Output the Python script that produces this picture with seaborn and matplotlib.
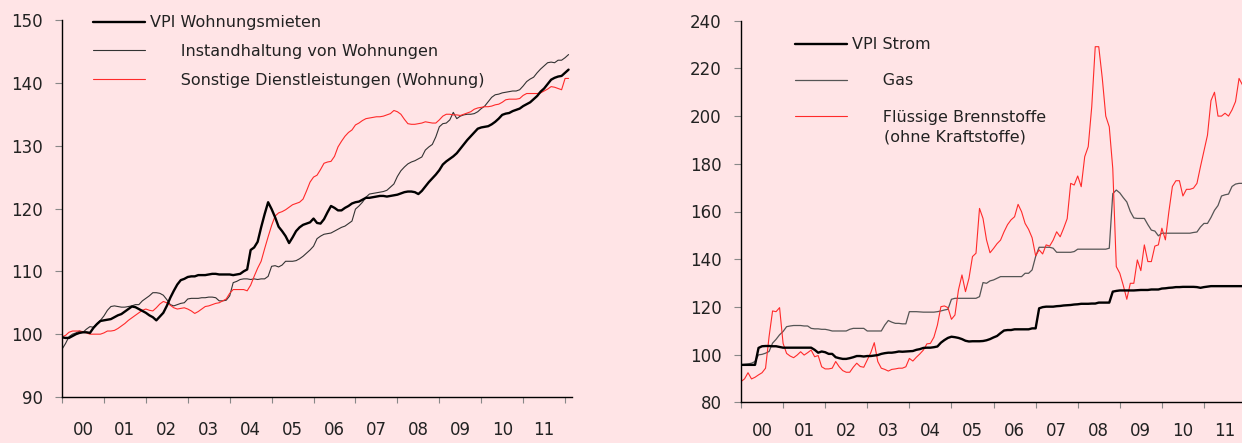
import numpy as np
import pandas as pd
import matplotlib
matplotlib.use("Agg")
import matplotlib.pyplot as plt
import seaborn as sns
from matplotlib.ticker import FixedLocator, NullFormatter, FixedFormatter

# ---------------- data (monthly, Jan 2000 - Feb 2012) ----------------
months = pd.date_range("2000-01-01", periods=146, freq="MS")
year_labels = ["00", "01", "02", "03", "04", "05", "06", "07", "08", "09", "10", "11"]

miete = [
    99.5, 99.4, 99.4, 99.7, 100.0, 100.2, 100.3, 100.3, 100.2, 101.0, 101.6, 102.1,
    102.2, 102.3, 102.4, 102.7, 103.0, 103.2, 103.6, 104.0, 104.4, 104.3, 104.0, 103.7,
    103.4, 103.0, 102.7, 102.2, 102.8, 103.4, 104.5, 105.8, 106.9, 107.9, 108.6, 108.8,
    109.1, 109.2, 109.2, 109.4, 109.4, 109.4, 109.5, 109.6, 109.6, 109.5, 109.5, 109.5,
    109.5, 109.4, 109.5, 109.6, 110.0, 110.3, 113.4, 113.8, 114.7, 117.0, 119.1, 121.0,
    119.9, 118.6, 117.1, 116.4, 115.6, 114.5, 115.4, 116.4, 117.0, 117.4, 117.6, 117.8,
    118.4, 117.7, 117.6, 118.3, 119.4, 120.4, 120.1, 119.7, 119.7, 120.1, 120.4, 120.8,
    121.0, 121.1, 121.4, 121.7, 121.7, 121.8, 121.9, 122.0, 122.0, 121.9, 122.0, 122.1,
    122.2, 122.4, 122.6, 122.7, 122.7, 122.6, 122.3, 122.8, 123.5, 124.2, 124.8, 125.4,
    126.1, 127.0, 127.5, 127.9, 128.3, 128.8, 129.5, 130.2, 130.9, 131.5, 132.1, 132.7,
    132.9, 133.0, 133.1, 133.4, 133.8, 134.3, 134.9, 135.1, 135.2, 135.5, 135.7, 135.9,
    136.3, 136.6, 136.9, 137.4, 137.9, 138.6, 139.1, 139.8, 140.5, 140.8, 141.0, 141.1,
    141.6, 142.1,
]
instand = [
    97.6, 98.5, 99.6, 100.0, 100.2, 100.5, 100.3, 100.8, 101.2, 101.1, 101.7, 102.2,
    102.9, 103.8, 104.4, 104.5, 104.4, 104.3, 104.3, 104.4, 104.5, 104.7, 104.7, 105.3,
    105.7, 106.1, 106.6, 106.6, 106.5, 106.2, 105.5, 104.7, 104.5, 104.7, 104.9, 105.0,
    105.6, 105.7, 105.7, 105.7, 105.8, 105.8, 105.9, 105.9, 105.8, 105.3, 105.3, 105.4,
    106.1, 108.2, 108.4, 108.7, 108.8, 108.8, 108.7, 108.8, 108.7, 108.8, 108.8, 109.2,
    110.8, 110.9, 110.7, 111.0, 111.6, 111.6, 111.6, 111.7, 112.0, 112.4, 112.9, 113.4,
    114.0, 115.2, 115.6, 115.9, 116.0, 116.1, 116.4, 116.7, 117.0, 117.2, 117.6, 118.0,
    119.9, 120.4, 121.0, 121.8, 122.3, 122.4, 122.5, 122.6, 122.7, 122.9, 123.4, 123.9,
    125.1, 126.0, 126.6, 127.1, 127.4, 127.6, 127.9, 128.2, 129.3, 129.8, 130.2, 131.4,
    133.0, 133.5, 133.6, 134.1, 135.3, 134.3, 134.7, 134.9, 135.0, 135.0, 135.1, 135.4,
    135.9, 136.3, 137.0, 137.7, 138.1, 138.2, 138.4, 138.5, 138.6, 138.7, 138.7, 138.9,
    139.5, 140.2, 140.6, 140.9, 141.6, 142.2, 142.7, 143.2, 143.3, 143.2, 143.6, 143.6,
    144.0, 144.5,
]
sonstige = [
    99.6, 99.8, 100.3, 100.5, 100.5, 100.5, 100.4, 100.2, 100.0, 100.0, 100.0, 100.0,
    100.2, 100.5, 100.5, 100.6, 100.9, 101.3, 101.7, 102.2, 102.6, 103.0, 103.4, 103.8,
    104.0, 103.8, 103.7, 104.2, 104.8, 105.2, 105.0, 104.6, 104.2, 104.0, 104.1, 104.2,
    104.0, 103.7, 103.3, 103.6, 104.0, 104.4, 104.5, 104.7, 104.9, 105.0, 105.3, 105.6,
    106.5, 107.1, 107.1, 107.1, 107.1, 106.9, 107.8, 109.2, 110.5, 111.6, 113.6, 115.5,
    117.3, 118.8, 119.3, 119.5, 119.8, 120.2, 120.6, 120.8, 121.0, 121.5, 122.8, 124.2,
    125.0, 125.3, 126.2, 127.2, 127.4, 127.5, 128.3, 129.8, 130.7, 131.5, 132.1, 132.5,
    133.3, 133.6, 134.0, 134.3, 134.4, 134.5, 134.6, 134.6, 134.7, 134.9, 135.1, 135.6,
    135.4, 135.0, 134.2, 133.5, 133.4, 133.4, 133.5, 133.6, 133.8, 133.7, 133.6, 133.6,
    134.1, 134.7, 135.0, 135.0, 134.9, 134.9, 134.8, 135.0, 135.2, 135.4, 135.8, 136.0,
    136.1, 136.2, 136.2, 136.3, 136.5, 136.6, 136.9, 137.3, 137.4, 137.4, 137.4, 137.5,
    138.0, 138.3, 138.3, 138.3, 138.3, 138.4, 138.7, 139.0, 139.4, 139.3, 139.1, 138.9,
    140.7, 140.7,
]
strom = [
    95.7, 95.7, 95.7, 95.7, 95.7, 102.8, 103.5, 103.6, 103.6, 103.5, 103.5, 103.2,
    102.9, 102.9, 102.9, 102.9, 102.9, 102.9, 102.9, 102.9, 102.9, 102.0, 100.8, 101.3,
    101.0, 100.3, 100.3, 98.9, 98.5, 98.2, 98.2, 98.5, 98.9, 99.4, 99.4, 99.2,
    99.4, 99.4, 99.6, 99.8, 100.3, 100.6, 100.8, 100.8, 101.0, 101.3, 101.2, 101.3,
    101.4, 101.5, 102.0, 102.3, 102.8, 102.9, 102.9, 103.1, 103.4, 105.0, 106.1, 107.0,
    107.5, 107.3, 107.0, 106.5, 105.8, 105.5, 105.6, 105.6, 105.6, 105.7, 106.0, 106.5,
    107.2, 107.8, 109.0, 110.1, 110.3, 110.3, 110.6, 110.6, 110.6, 110.6, 110.6, 111.0,
    111.0, 119.4, 119.9, 120.1, 120.1, 120.1, 120.3, 120.4, 120.6, 120.7, 120.8, 121.0,
    121.1, 121.3, 121.3, 121.3, 121.4, 121.4, 121.8, 121.8, 121.8, 121.8, 126.4, 126.7,
    126.9, 126.9, 126.9, 126.9, 126.9, 127.0, 127.1, 127.1, 127.1, 127.3, 127.3, 127.3,
    127.7, 127.8, 128.0, 128.1, 128.3, 128.3, 128.4, 128.4, 128.4, 128.4, 128.3, 128.0,
    128.3, 128.5, 128.7, 128.7, 128.7, 128.7, 128.7, 128.7, 128.7, 128.7, 128.7, 128.7,
    128.7, 128.7,
]
gas = [
    95.7, 95.9, 96.1, 96.4, 97.1, 99.9, 100.1, 100.6, 101.3, 104.8, 106.4, 108.3,
    109.7, 111.7, 112.0, 112.2, 112.2, 112.2, 112.0, 112.0, 111.0, 110.8, 110.8, 110.6,
    110.6, 110.3, 109.9, 109.9, 109.9, 109.9, 109.9, 110.6, 111.0, 111.0, 111.0, 111.0,
    109.9, 109.9, 109.9, 109.9, 109.9, 112.4, 114.3, 113.6, 113.1, 113.1, 112.9, 112.9,
    118.0, 118.0, 118.0, 117.9, 117.8, 117.8, 117.8, 117.8, 118.0, 118.3, 118.7, 119.0,
    123.2, 123.6, 123.6, 123.6, 123.6, 123.6, 123.6, 123.6, 124.3, 130.2, 129.9, 130.9,
    131.3, 132.0, 132.7, 132.7, 132.7, 132.7, 132.7, 132.7, 132.7, 134.1, 134.1, 135.5,
    141.1, 145.0, 145.0, 145.0, 145.0, 144.6, 142.9, 142.9, 142.9, 142.9, 142.9, 143.2,
    144.2, 144.2, 144.2, 144.2, 144.2, 144.2, 144.2, 144.2, 144.2, 144.6, 167.5, 169.0,
    167.8, 165.8, 164.0, 160.0, 157.3, 157.1, 157.1, 157.1, 154.5, 152.2, 151.8, 149.8,
    150.9, 150.9, 150.9, 150.9, 150.9, 150.9, 150.9, 150.9, 150.9, 151.2, 151.4, 153.5,
    155.0, 155.0, 157.5, 160.5, 162.5, 166.5, 167.0, 167.3, 170.5, 171.5, 171.8, 171.8,
    171.8, 171.8,
]
heizoel = [
    88.7, 89.8, 92.4, 89.8, 90.5, 91.5, 92.4, 94.3, 107.5, 118.3, 118.0, 119.7,
    104.7, 100.5, 99.4, 98.7, 99.8, 101.2, 99.8, 100.8, 101.9, 99.1, 99.6, 94.9,
    94.0, 94.0, 94.3, 97.1, 94.9, 93.3, 92.6, 92.6, 94.7, 96.4, 95.0, 94.7,
    97.7, 100.8, 105.0, 97.1, 94.3, 93.8, 93.1, 93.8, 94.0, 94.3, 94.3, 94.9,
    98.4, 97.3, 98.9, 100.3, 101.9, 104.5, 104.7, 107.3, 112.4, 120.1, 120.4, 119.7,
    114.8, 116.6, 127.1, 133.4, 126.4, 132.0, 141.1, 142.5, 161.3, 157.1, 148.1, 142.7,
    144.5, 146.5, 148.0, 151.5, 154.5, 156.5, 157.8, 163.0, 159.9, 155.0, 152.5, 149.0,
    141.5, 143.9, 142.2, 146.0, 145.5, 148.0, 151.5, 149.4, 153.0, 157.0, 171.8, 171.1,
    174.9, 170.4, 183.0, 187.2, 203.9, 229.1, 229.1, 216.0, 200.0, 195.5, 178.0, 136.9,
    134.1, 129.0, 123.2, 129.9, 129.9, 139.7, 135.2, 146.0, 139.0, 139.0, 145.5, 146.0,
    153.0, 148.1, 160.0, 170.5, 172.9, 172.9, 166.5, 169.3, 169.3, 169.8, 171.8, 178.8,
    185.5, 192.0, 206.5, 210.0, 200.0, 200.0, 201.2, 200.0, 202.6, 206.1, 215.8, 213.0,
    212.0, 213.0,
]

lab_miete = "VPI Wohnungsmieten"
lab_instand = "Instandhaltung von Wohnungen"
lab_sonst = "Sonstige Dienstleistungen (Wohnung)"
lab_strom = "VPI Strom"
lab_gas = "Gas"
lab_oel = "Flüssige Brennstoffe"
lab_oel2 = "(ohne Kraftstoffe)"

t = months.year + (months.month - 1) / 12.0
df = pd.DataFrame({"t": t, "miete": miete, "instand": instand, "sonst": sonstige,
                   "strom": strom, "gas": gas, "oel": heizoel})

# ---------------- style ----------------
sns.set_theme(style="ticks")
plt.rcParams["font.family"] = ["DejaVu Sans"]
BG = "#FFE4E6"
TXT = "#222222"
RED = "#FF2A2A"
FS = 11.5
TFS = 12

fig = plt.figure(figsize=(12.42, 4.43), dpi=100, facecolor=BG)
ax1 = fig.add_axes([62 / 1242, 46 / 443, 510 / 1242, 377 / 443])
ax2 = fig.add_axes([741 / 1242, 40.7 / 443, 512 / 1242, 381.6 / 443])

# left panel
sns.lineplot(data=df, x="t", y="instand", ax=ax1, color="#333333", lw=0.8,
             estimator=None, sort=False, label=lab_instand, zorder=2)
sns.lineplot(data=df, x="t", y="sonst", ax=ax1, color=RED, lw=0.8,
             estimator=None, sort=False, label=lab_sonst, zorder=2)
sns.lineplot(data=df, x="t", y="miete", ax=ax1, color="black", lw=1.7,
             estimator=None, sort=False, label=lab_miete, zorder=3)

# right panel
sns.lineplot(data=df, x="t", y="gas", ax=ax2, color="#555555", lw=0.9,
             estimator=None, sort=False, label=lab_gas, zorder=2)
sns.lineplot(data=df, x="t", y="oel", ax=ax2, color=RED, lw=0.8,
             estimator=None, sort=False, label=lab_oel, zorder=2)
sns.lineplot(data=df, x="t", y="strom", ax=ax2, color="black", lw=1.7,
             estimator=None, sort=False, label=lab_strom, zorder=3)

for ax, ylim, yticks, xpad in [(ax1, (90, 150), range(90, 151, 10), 17),
                               (ax2, (80, 240), range(80, 241, 20), 14.5)]:
    ax.set_facecolor(BG)
    ax.set_xlim(2000, 2012.165)
    ax.set_ylim(*ylim)
    ax.set_yticks(list(yticks))
    ax.set_xlabel("")
    ax.set_ylabel("")
    ax.xaxis.set_major_locator(FixedLocator(list(range(2000, 2013))))
    ax.xaxis.set_major_formatter(NullFormatter())
    ax.xaxis.set_minor_locator(FixedLocator([y + 0.5 for y in range(2000, 2012)]))
    ax.xaxis.set_minor_formatter(FixedFormatter(year_labels))
    ax.tick_params(axis="x", which="major", length=4.5, width=0.8, color="#888888",
                   direction="out")
    ax.tick_params(axis="x", which="minor", length=0, pad=xpad, labelsize=TFS,
                   labelcolor=TXT)
    ax.tick_params(axis="y", length=5, width=0.8, color="#888888", pad=9,
                   labelsize=TFS, labelcolor=TXT)
    for s in ("top", "right"):
        ax.spines[s].set_visible(False)
    for s in ("left", "bottom"):
        ax.spines[s].set_color("black")
        ax.spines[s].set_linewidth(1.0)

# legends
ind = "      "
h1 = {l.get_label(): l for l in ax1.get_lines()}
ax1.legend([h1[lab_miete], h1[lab_instand], h1[lab_sonst]],
           [lab_miete, ind + lab_instand, ind + lab_sonst],
           loc="upper left", bbox_to_anchor=(0.061, 1.012), frameon=False,
           borderpad=0, borderaxespad=0, handlelength=3.25, handletextpad=0.3,
           labelspacing=0.85, fontsize=FS, labelcolor=TXT)

h2 = {l.get_label(): l for l in ax2.get_lines()}
ax2.legend([h2[lab_strom], h2[lab_gas], h2[lab_oel]],
           [lab_strom, ind + lab_gas, ind + lab_oel],
           loc="upper left", bbox_to_anchor=(0.1055, 0.957), frameon=False,
           borderpad=0, borderaxespad=0, handlelength=3.25, handletextpad=0.3,
           labelspacing=1.33, fontsize=FS, labelcolor=TXT)
ax2.text((884 - 741) / 512, (402.3 - 137) / 381.6, lab_oel2, transform=ax2.transAxes,
         ha="left", va="center", fontsize=FS, color=TXT)

fig.savefig("out.png", dpi=100, facecolor=BG)
